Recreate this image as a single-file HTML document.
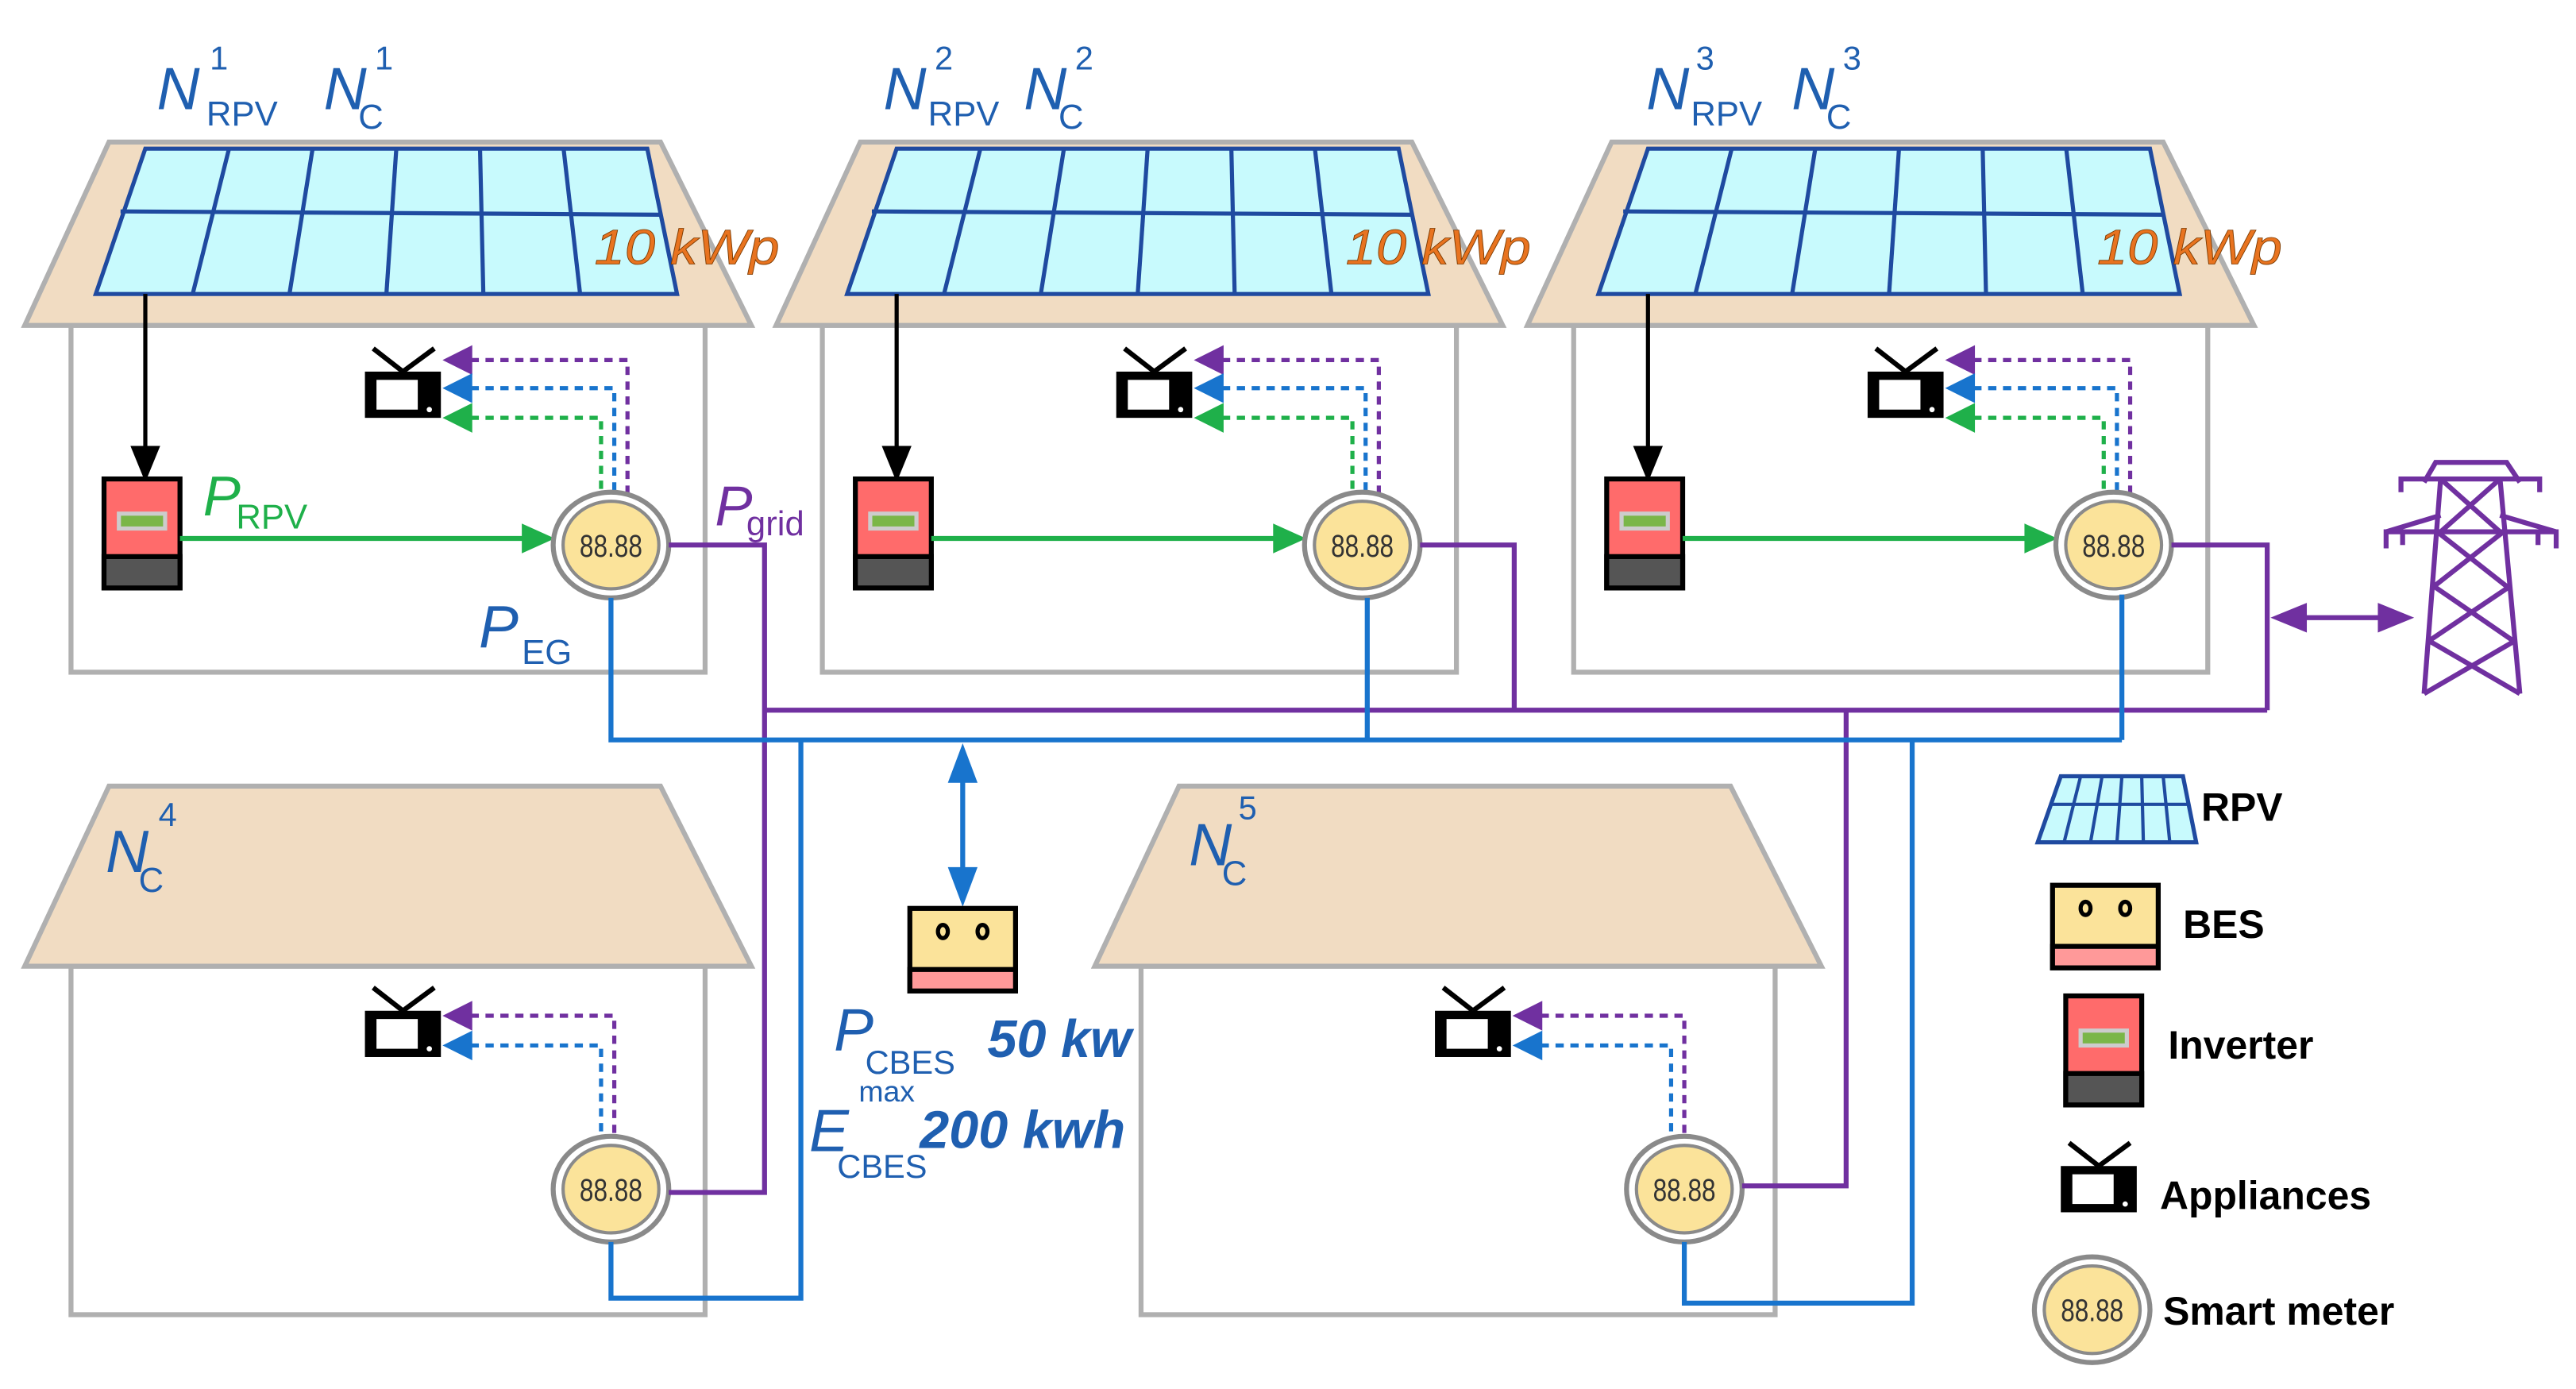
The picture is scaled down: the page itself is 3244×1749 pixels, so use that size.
<!DOCTYPE html>
<html><head><meta charset="utf-8"><style>
html,body{margin:0;padding:0;background:#fff;}
svg{display:block;}
text{font-family:"Liberation Sans",sans-serif;}
.lbl{fill:#1f5fb0;font-style:italic;}
.kwp{fill:#e8731f;font-style:italic;font-size:30px;stroke:#7a3a00;stroke-width:0.4;}
.leg{fill:#000;font-weight:bold;font-size:24px;}
</style></head><body>
<svg width="3244" height="1749" viewBox="0 0 1560 841" preserveAspectRatio="none" xmlns="http://www.w3.org/2000/svg">
<defs>
  <g id="meter">
    <ellipse cx="0" cy="0" rx="35" ry="32" fill="#fff" stroke="#8a8a8a" stroke-width="3"/>
    <ellipse cx="0" cy="0" rx="29" ry="26.5" fill="#fbe39a" stroke="#8a8a8a" stroke-width="2"/>
    <text x="0" y="7" text-anchor="middle" font-size="19" fill="#333" style="font-family:'Liberation Sans Narrow','Liberation Sans',sans-serif" textLength="38" lengthAdjust="spacingAndGlyphs">88.88</text>
  </g>
  <g id="tv">
    <line x1="23" y1="0" x2="5" y2="-14" stroke="#000" stroke-width="3"/>
    <line x1="23" y1="0" x2="42" y2="-14" stroke="#000" stroke-width="3"/>
    <rect x="0" y="0" width="46" height="28" fill="#000"/>
    <rect x="7" y="5" width="25" height="18" fill="#fff"/>
    <circle cx="39" cy="23" r="1.6" fill="#fff"/>
  </g>
  <g id="inv">
    <rect x="0" y="0" width="46" height="66" fill="#ff6b6b" stroke="#000" stroke-width="3"/>
    <rect x="0" y="47" width="46" height="19" fill="#555" stroke="#000" stroke-width="3"/>
    <rect x="9" y="21" width="28" height="9" fill="#7ab648" stroke="#ccc" stroke-width="2.5"/>
  </g>
  <g id="bes">
    <rect x="0" y="0" width="64" height="50" fill="#fbe39a" stroke="#000" stroke-width="3"/>
    <rect x="0" y="37" width="64" height="13" fill="#f99" stroke="#000" stroke-width="3"/>
    <ellipse cx="20" cy="14" rx="3" ry="4" fill="none" stroke="#000" stroke-width="2.5"/>
    <ellipse cx="44" cy="14" rx="3" ry="4" fill="none" stroke="#000" stroke-width="2.5"/>
  </g>
  <g id="house">
    <rect x="43" y="197" width="384" height="210" fill="#fff" stroke="#b0b0b0" stroke-width="3"/>
    <polygon points="66,86 400,86 455,197 15,197" fill="#f1dcc2" stroke="#b0b0b0" stroke-width="3"/>
    <polygon points="88,90 392,90 410,178 58,178" fill="#c8fafd" stroke="#1f4aa0" stroke-width="2.5"/>
    <g stroke="#1f4aa0" stroke-width="2.5">
      <line x1="73" y1="128" x2="401" y2="130"/>
      <line x1="138.7" y1="90" x2="116.7" y2="178"/>
      <line x1="189.3" y1="90" x2="175.3" y2="178"/>
      <line x1="240" y1="90" x2="234" y2="178"/>
      <line x1="290.7" y1="90" x2="292.7" y2="178"/>
      <line x1="341.3" y1="90" x2="351.3" y2="178"/>
    </g>
    <text x="360" y="160" class="kwp" textLength="112" lengthAdjust="spacingAndGlyphs">10 kWp</text>
    <line x1="88" y1="178" x2="88" y2="272" stroke="#000" stroke-width="2.5"/>
    <polygon points="79,270 97,270 88,292" fill="#000"/>
    <use href="#inv" x="63" y="290"/>
    <line x1="109" y1="326" x2="318" y2="326" stroke="#1fb04a" stroke-width="3"/>
    <polygon points="316,317 336,326 316,335" fill="#1fb04a"/>
    <use href="#tv" x="221" y="225"/>
    <g fill="none" stroke-width="2.5" stroke-dasharray="5,4">
      <polyline points="285,218 380,218 380,300" stroke="#7030a0"/>
      <polyline points="285,235 372,235 372,300" stroke="#1874cd"/>
      <polyline points="285,253 364,253 364,300" stroke="#1fb04a"/>
    </g>
    <polygon points="268,218 286,209 286,227" fill="#7030a0"/>
    <polygon points="268,235 286,226 286,244" fill="#1874cd"/>
    <polygon points="268,253 286,244 286,262" fill="#1fb04a"/>
    <use href="#meter" x="370" y="330"/>
  </g>
  <g id="house2">
    <rect x="43" y="585" width="384" height="211" fill="#fff" stroke="#b0b0b0" stroke-width="3"/>
    <polygon points="66,476 400,476 455,585 15,585" fill="#f1dcc2" stroke="#b0b0b0" stroke-width="3"/>
    <use href="#tv" x="221" y="612"/>
    <g fill="none" stroke-width="2.5" stroke-dasharray="5,4">
      <polyline points="285,615 372,615 372,688" stroke="#7030a0"/>
      <polyline points="285,633 364,633 364,688" stroke="#1874cd"/>
    </g>
    <polygon points="268,615 286,606 286,624" fill="#7030a0"/>
    <polygon points="268,633 286,624 286,642" fill="#1874cd"/>
  </g>
</defs>

<use href="#house" x="0" y="0"/>
<use href="#house" x="455" y="0"/>
<use href="#house" x="910" y="0"/>
<use href="#house2" x="0" y="0"/>
<use href="#house2" x="648" y="0"/>

<!-- labels top -->
<g class="lbl">
  <text x="95" y="66" font-size="36">N</text><text x="125" y="76" font-size="21" font-style="normal">RPV</text><text x="127" y="42" font-size="20" font-style="normal">1</text>
  <text x="196" y="66" font-size="36">N</text><text x="217" y="78" font-size="21" font-style="normal">C</text><text x="227" y="42" font-size="20" font-style="normal">1</text>
  <text x="535" y="66" font-size="36">N</text><text x="562" y="76" font-size="21" font-style="normal">RPV</text><text x="566" y="42" font-size="20" font-style="normal">2</text>
  <text x="620" y="66" font-size="36">N</text><text x="641" y="78" font-size="21" font-style="normal">C</text><text x="651" y="42" font-size="20" font-style="normal">2</text>
  <text x="997" y="66" font-size="36">N</text><text x="1024" y="76" font-size="21" font-style="normal">RPV</text><text x="1027" y="42" font-size="20" font-style="normal">3</text>
  <text x="1085" y="66" font-size="36">N</text><text x="1106" y="78" font-size="21" font-style="normal">C</text><text x="1116" y="42" font-size="20" font-style="normal">3</text>
  <text x="64" y="528" font-size="36">N</text><text x="84" y="540" font-size="21" font-style="normal">C</text><text x="96" y="500" font-size="20" font-style="normal">4</text>
  <text x="720" y="524" font-size="36">N</text><text x="740" y="536" font-size="21" font-style="normal">C</text><text x="750" y="496" font-size="20" font-style="normal">5</text>
  <text x="290" y="392" font-size="36">P</text><text x="316" y="402" font-size="21" font-style="normal">EG</text>
  <text x="505" y="636" font-size="36">P</text><text x="524" y="650" font-size="20" font-style="normal">CBES</text>
  <text x="598" y="640" font-size="32" font-weight="bold">50 kw</text>
  <text x="490" y="697" font-size="36">E</text><text x="507" y="713" font-size="20" font-style="normal">CBES</text><text x="520" y="667" font-size="18" font-style="normal">max</text>
  <text x="557" y="695" font-size="32" font-weight="bold">200 kwh</text>
</g>
<text x="123" y="312" font-size="34" fill="#1fb04a" font-style="italic">P</text><text x="143" y="320" font-size="21" fill="#1fb04a">RPV</text>
<text x="433" y="318" font-size="34" fill="#7030a0" font-style="italic">P</text><text x="452" y="324" font-size="21" fill="#7030a0">grid</text>

<!-- meters lower -->
<use href="#meter" x="370" y="720"/>
<use href="#meter" x="1020" y="720"/>

<!-- purple network -->
<g fill="none" stroke="#7030a0" stroke-width="3">
  <polyline points="405,330 463,330 463,722 405,722"/>
  <line x1="463" y1="430" x2="1373" y2="430"/>
  <polyline points="860,330 917,330 917,430"/>
  <polyline points="1315,330 1373,330 1373,430"/>
  <polyline points="1055,718 1118,718 1118,430"/>
  <line x1="1390" y1="374" x2="1445" y2="374"/>
</g>
<polygon points="1375,374 1397,365 1397,383" fill="#7030a0"/>
<polygon points="1462,374 1440,365 1440,383" fill="#7030a0"/>

<!-- blue network -->
<g fill="none" stroke="#1874cd" stroke-width="3">
  <polyline points="370,362 370,448 1285,448"/>
  <line x1="828" y1="362" x2="828" y2="448"/>
  <line x1="1285" y1="360" x2="1285" y2="448"/>
  <polyline points="370,752 370,786 485,786 485,448"/>
  <polyline points="1020,752 1020,789 1158,789 1158,448"/>
  <line x1="583" y1="468" x2="583" y2="530"/>
</g>
<polygon points="583,450 574,474 592,474" fill="#1874cd"/>
<polygon points="583,549 574,525 592,525" fill="#1874cd"/>
<use href="#bes" x="551" y="550"/>

<!-- tower -->
<g fill="none" stroke="#7030a0" stroke-width="3">
  <polyline points="1468,292 1475,280 1518,280 1526,292"/>
  <polyline points="1454,298 1454,290 1538,290 1538,298"/>
  <polyline points="1445,332 1445,322 1548,322 1548,332"/>
  <line x1="1455" y1="322" x2="1455" y2="330"/><line x1="1537" y1="322" x2="1537" y2="330"/>
  <line x1="1445" y1="322" x2="1478" y2="312"/><line x1="1548" y1="322" x2="1514" y2="312"/>
  <polyline points="1478,290 1468,420 "/>
  <polyline points="1514,290 1526,420"/>
  <line x1="1478" y1="290" x2="1514" y2="322"/><line x1="1514" y1="290" x2="1478" y2="322"/>
  <line x1="1476" y1="322" x2="1518" y2="355"/><line x1="1516" y1="322" x2="1474" y2="355"/>
  <line x1="1474" y1="355" x2="1522" y2="388"/><line x1="1520" y1="355" x2="1471" y2="388"/>
  <line x1="1471" y1="388" x2="1526" y2="420"/><line x1="1523" y1="388" x2="1468" y2="420"/>
</g>

<!-- legend -->
<polygon points="1248,470 1322,470 1330,510 1234,510" fill="#c8fafd" stroke="#1f4aa0" stroke-width="2.5"/>
<g stroke="#1f4aa0" stroke-width="2">
  <line x1="1241" y1="487" x2="1326" y2="487"/>
  <line x1="1260" y1="470" x2="1250" y2="510"/><line x1="1273" y1="470" x2="1266" y2="510"/>
  <line x1="1285" y1="470" x2="1282" y2="510"/><line x1="1297" y1="470" x2="1298" y2="510"/>
  <line x1="1310" y1="470" x2="1314" y2="510"/>
</g>
<text x="1333" y="497" class="leg">RPV</text>
<use href="#bes" x="1243" y="536"/>
<text x="1322" y="568" class="leg">BES</text>
<use href="#inv" x="1251" y="603"/>
<text x="1313" y="641" class="leg">Inverter</text>
<use href="#tv" x="1248" y="706"/>
<text x="1308" y="732" class="leg">Appliances</text>
<use href="#meter" x="1267" y="793"/>
<text x="1310" y="802" class="leg">Smart meter</text>
</svg>
</body></html>
